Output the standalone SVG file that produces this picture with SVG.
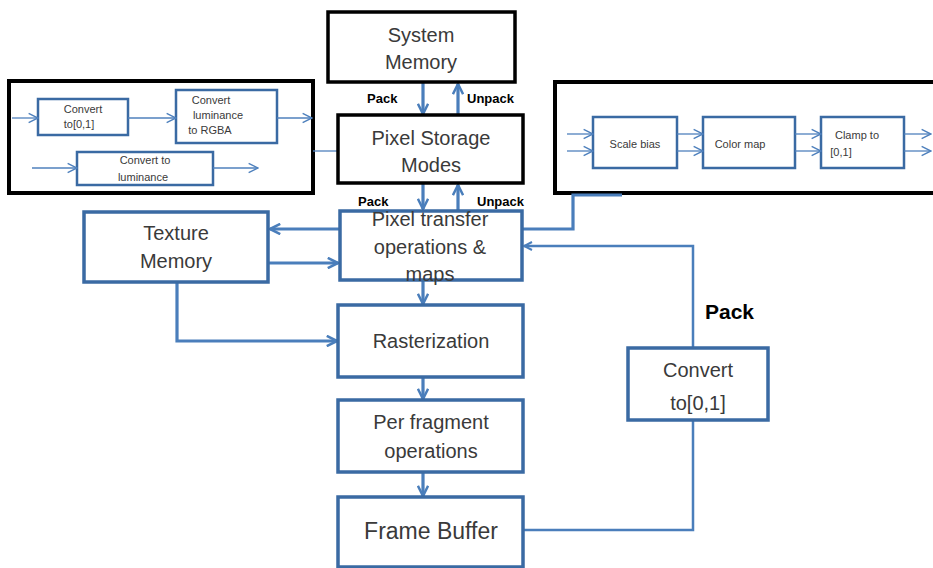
<svg xmlns="http://www.w3.org/2000/svg" width="933" height="568" viewBox="0 0 933 568">
<style>
.bk{fill:#fff;stroke:#000;stroke-width:3.5}
.bl{fill:#fff;stroke:#3a6aa3;stroke-width:3.5}
.sb{fill:#fff;stroke:#3a6aa3;stroke-width:2.5}
.t{font-family:"Liberation Sans",Arial,sans-serif;font-size:20px;fill:#3a3a3a;text-anchor:middle}
.s{font-family:"Liberation Sans",Arial,sans-serif;font-size:11px;fill:#3a3a3a;text-anchor:middle}
.p{font-family:"Liberation Sans",Arial,sans-serif;font-size:13px;font-weight:bold;fill:#000}
.c{fill:none;stroke:#4a7ebb;stroke-width:3.2}
.ct{fill:none;stroke:#4a7ebb;stroke-width:2.5}
.th{fill:none;stroke:#4f81bd;stroke-width:1.3}
</style>
<defs>
<marker id="a" viewBox="0 0 10 10" refX="9" refY="5" markerWidth="4" markerHeight="4" orient="auto" markerUnits="strokeWidth"><path d="M1,1 L9,5 L1,9" fill="none" stroke="#4a7ebb" stroke-width="2"/></marker>
<marker id="ta" viewBox="0 0 10 10" refX="9" refY="5" markerWidth="9" markerHeight="9" orient="auto" markerUnits="strokeWidth"><path d="M1,1 L9,5 L1,9" fill="none" stroke="#4f81bd" stroke-width="1.2"/></marker>
</defs>
<rect width="933" height="568" fill="#fff"/>

<g id="left-panel">
<rect class="bk" x="9" y="81" width="304" height="112" style="stroke-width:4"/>
<rect class="sb" x="38" y="99" width="90" height="36"/>
<text class="s" x="83" y="113">Convert</text>
<text class="s" x="79" y="128">to[0,1]</text>
<rect class="sb" x="176" y="90" width="101" height="53"/>
<text class="s" x="211" y="104">Convert</text>
<text class="s" x="218" y="119">luminance</text>
<text class="s" x="210" y="134">to RGBA</text>
<rect class="sb" x="77" y="152" width="136" height="33"/>
<text class="s" x="145" y="164">Convert to</text>
<text class="s" x="143" y="181">luminance</text>
<path class="th" d="M12,118 H38" marker-end="url(#ta)"/>
<path class="th" d="M128,118 H176" marker-end="url(#ta)"/>
<path class="th" d="M277,118 H312" marker-end="url(#ta)"/>
<path class="th" d="M32,168 H77" marker-end="url(#ta)"/>
<path class="th" d="M213,168 H258" marker-end="url(#ta)"/>
</g>

<g id="right-panel">
<rect class="bk" x="555" y="82" width="390" height="111" style="stroke-width:4"/>
<rect class="sb" x="593" y="117" width="84" height="51"/>
<text class="s" x="635" y="148">Scale bias</text>
<rect class="sb" x="703" y="117" width="92" height="51"/>
<text class="s" x="740" y="148">Color map</text>
<rect class="sb" x="821" y="117" width="83" height="51"/>
<text class="s" x="857" y="139">Clamp to</text>
<text class="s" x="841" y="156">[0,1]</text>
<path class="th" d="M567,134 H593" marker-end="url(#ta)"/>
<path class="th" d="M567,151 H593" marker-end="url(#ta)"/>
<path class="th" d="M677,134 H703" marker-end="url(#ta)"/>
<path class="th" d="M677,151 H703" marker-end="url(#ta)"/>
<path class="th" d="M795,134 H821" marker-end="url(#ta)"/>
<path class="th" d="M795,151 H821" marker-end="url(#ta)"/>
<path class="th" d="M904,134 H931" marker-end="url(#ta)"/>
<path class="th" d="M904,151 H931" marker-end="url(#ta)"/>
</g>

<g id="connectors">
<path class="c" d="M423,82 V114" marker-end="url(#a)"/>
<path class="c" d="M458,115 V84" marker-end="url(#a)"/>
<path class="c" d="M423,183 V209" marker-end="url(#a)"/>
<path class="c" d="M458,210 V185" marker-end="url(#a)"/>
<path class="c" d="M340,229 H270" marker-end="url(#a)"/>
<path class="c" d="M268,263 H338" marker-end="url(#a)"/>
<path class="c" d="M177,282 V341 H337" marker-end="url(#a)"/>
<path class="c" d="M423,280 V304" marker-end="url(#a)"/>
<path class="c" d="M423,377 V399" marker-end="url(#a)"/>
<path class="c" d="M423,472 V496" marker-end="url(#a)"/>
<path class="ct" d="M523,530 H693 V420"/>
<path class="ct" d="M693,348 V246 H524" marker-end="url(#a)"/>
<path class="c" d="M522,229 H573 V195 H622"/>
<path class="th" d="M338,151 H313"/>
</g>

<g id="labels">
<text class="p" x="367" y="103">Pack</text>
<text class="p" x="467" y="103">Unpack</text>
<text class="p" x="358" y="206">Pack</text>
<text class="p" x="477" y="206">Unpack</text>
<text class="p" x="705" y="319" style="font-size:21px">Pack</text>
</g>

<g id="system-memory">
<rect class="bk" x="328" y="12" width="187" height="70"/>
<text class="t" x="421" y="42">System</text>
<text class="t" x="421" y="69">Memory</text>
</g>
<g id="pixel-storage">
<rect class="bk" x="338" y="115" width="185" height="68"/>
<text class="t" x="431" y="145">Pixel Storage</text>
<text class="t" x="431" y="172">Modes</text>
</g>
<g id="pixel-transfer">
<rect class="bl" x="340" y="211" width="182" height="69"/>
<text class="t" x="430" y="226">Pixel transfer</text>
<text class="t" x="430" y="254">operations &amp;</text>
<text class="t" x="430" y="281">maps</text>
</g>
<g id="texture-memory">
<rect class="bl" x="84" y="212" width="184" height="70"/>
<text class="t" x="176" y="240">Texture</text>
<text class="t" x="176" y="268">Memory</text>
</g>
<g id="rasterization">
<rect class="bl" x="338" y="305" width="185" height="72"/>
<text class="t" x="431" y="348">Rasterization</text>
</g>
<g id="per-fragment">
<rect class="bl" x="338" y="400" width="185" height="72"/>
<text class="t" x="431" y="429">Per fragment</text>
<text class="t" x="431" y="458">operations</text>
</g>
<g id="frame-buffer">
<rect class="bl" x="338" y="497" width="185" height="70"/>
<text class="t" x="431" y="539" style="font-size:23px">Frame Buffer</text>
</g>
<g id="convert-01">
<rect class="bl" x="628" y="348" width="140" height="72"/>
<text class="t" x="698" y="377">Convert</text>
<text class="t" x="698" y="410">to[0,1]</text>
</g>
</svg>
